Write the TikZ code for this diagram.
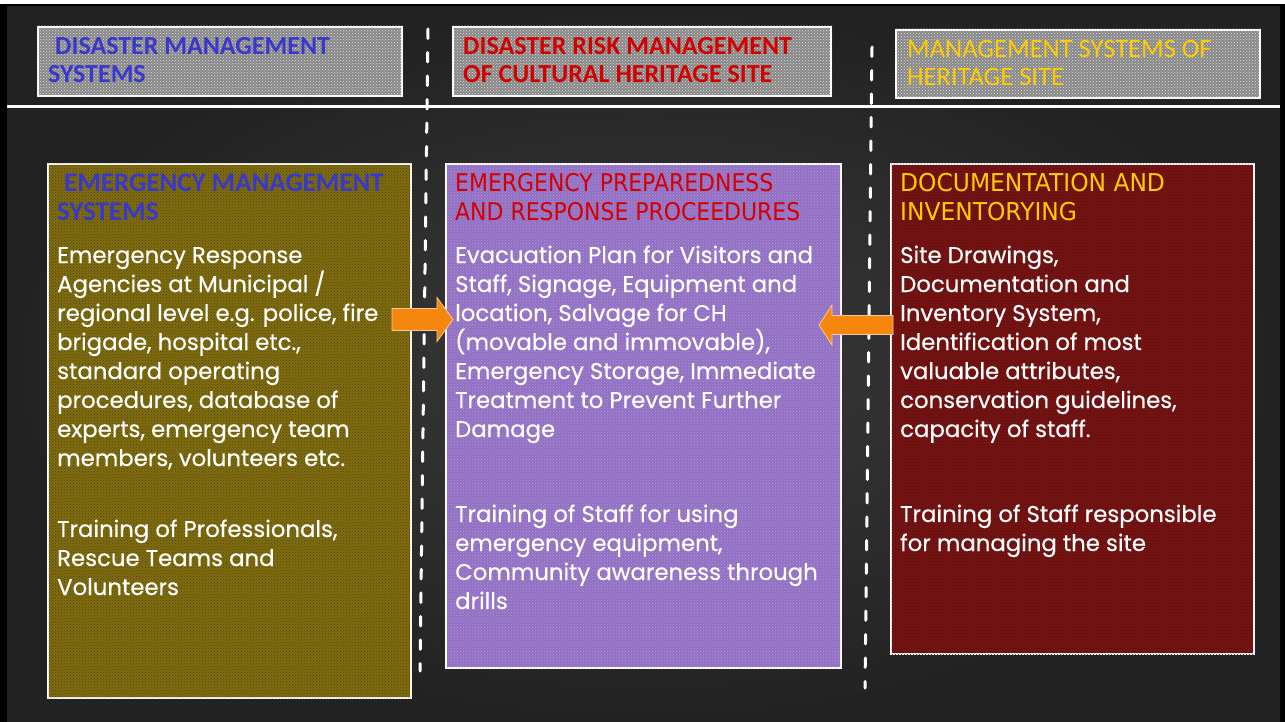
\documentclass[tikz,border=0pt]{standalone}
\usepackage{fontspec}
\usetikzlibrary{calc,patterns}
\newfontfamily\bodyf[FakeBold=0.4]{Poppins}
\newfontfamily\calf{Carlito}
\newfontfamily\tahf[FakeStretch=0.9]{DejaVu Sans}
\newfontfamily\tahfw[FakeStretch=0.95]{DejaVu Sans}
\definecolor{bgin}{HTML}{3A3A3A}
\definecolor{bgout}{HTML}{222222}
\definecolor{hdrgray}{HTML}{888888}
\definecolor{olivebox}{HTML}{7F6C10}
\definecolor{purplebox}{HTML}{9270C4}
\definecolor{redbox}{HTML}{761313}
\definecolor{tblue}{HTML}{3838CC}
\definecolor{tred}{HTML}{D40000}
\definecolor{tyellow}{HTML}{FFCC00}
\definecolor{arroworange}{HTML}{F5870F}
\definecolor{arrowedge}{HTML}{F8C79A}
\newcommand\txtblock[1]{\parbox[t]{420pt}{\raggedright #1}}
\tikzset{
  hdrbox/.style={draw=white, line width=2pt, fill=hdrgray, inner sep=0pt, anchor=north west},
  colbox/.style={draw=white, line width=2pt, inner sep=0pt, anchor=north west},
  texture/.style={pattern=crosshatch dots, pattern color=#1},
  txt/.style={inner sep=0pt, anchor=base west, align=left},
  hdrfontA/.style={font=\calf\bfseries\fontsize{26}{28}\selectfont},
  titfontA/.style={font=\calf\bfseries\fontsize{27}{29}\selectfont},
  hdrfontB/.style={font=\calf\fontsize{26.5}{28}\selectfont},
  tahfont/.style={font=\tahf\fontsize{24.4}{29}\selectfont},
  tahfontw/.style={font=\tahfw\fontsize{24.6}{29}\selectfont},
  bodyfont/.style={font=\bodyf\fontsize{22.8}{29}\selectfont, text=white},
  divider/.style={white, line width=3pt, line cap=round, dash pattern=on 9.5pt off 14pt},
  blockarrow/.style={fill=arroworange, draw=arrowedge, line width=0.8pt, line join=miter}
}
\begin{document}
\begin{tikzpicture}[x=1pt,y=-1pt]
\useasboundingbox (0,0) rectangle (1285,722);
% frame and background
\fill[white] (0,0) rectangle (1285,722);
\fill[black] (0,4) rectangle (1285,722);
\shade[inner color=bgin, outer color=bgout] (7,7) rectangle (1280,722);
\draw[white, line width=2.5pt] (7,106.5) -- (1280,106.5);
% dividers
\coordinate (d1top) at (428,29);
\coordinate (d1bot) at (420,671);
\coordinate (d2top) at (872,47);
\coordinate (d2bot) at (865,688);
\draw[divider] (d1top) -- (d1bot);
\draw[divider] (d2top) -- (d2bot);
% header boxes
\node[hdrbox, minimum width=364pt, minimum height=69pt] (h1) at (37,26) {};
\node[hdrbox, minimum width=378pt, minimum height=69pt] (h2) at (452,26) {};
\node[hdrbox, minimum width=364pt, minimum height=68pt] (h3) at (895,29) {};
\fill[texture=white!75!hdrgray] (h1.north west) rectangle (h1.south east);
\fill[texture=white!75!hdrgray] (h2.north west) rectangle (h2.south east);
\fill[texture=white!75!hdrgray] (h3.north west) rectangle (h3.south east);
\node[txt, hdrfontA, text=tblue] (h1t) at (48,55) {\txtblock{\hspace*{7pt}DISASTER MANAGEMENT\\SYSTEMS}};
\node[txt, hdrfontA, text=tred] (h2t) at (463,55) {\txtblock{DISASTER RISK MANAGEMENT\\OF CULTURAL HERITAGE SITE}};
\node[txt, hdrfontB, text=tyellow] (h3t) at (907,58) {\txtblock{MANAGEMENT SYSTEMS OF\\HERITAGE SITE}};
% column boxes
\node[colbox, fill=olivebox, minimum width=363pt, minimum height=534pt] (b1) at (47,163) {};
\node[colbox, fill=purplebox, minimum width=395pt, minimum height=504pt] (b2) at (445,163) {};
\node[colbox, fill=redbox, minimum width=363pt, minimum height=490pt] (b3) at (890,163) {};
\fill[texture=black!35!olivebox] ($(b1.north west)+(1,1)$) rectangle ($(b1.south east)+(-1,-1)$);
\fill[texture=white!25!purplebox] ($(b2.north west)+(1,1)$) rectangle ($(b2.south east)+(-1,-1)$);
\fill[texture=black!30!redbox] ($(b3.north west)+(1,1)$) rectangle ($(b3.south east)+(-1,-1)$);
% titles
\node[txt, titfontA, text=tblue] (t1) at (57,192) {\txtblock{\hspace*{7pt}EMERGENCY MANAGEMENT\\SYSTEMS}};
\node[txt, tahfont, text=tred] (t2) at (455,192) {\txtblock{EMERGENCY PREPAREDNESS\\AND RESPONSE PROCEEDURES}};
\node[txt, tahfontw, text=tyellow] (t3) at (900,192) {\txtblock{DOCUMENTATION AND\\INVENTORYING}};
% body texts
\node[txt, bodyfont] (x1) at (57,263) {\txtblock{Emergency Response\\
Agencies at Municipal /\\
regional level e.g. police, fire\\
brigade, hospital etc.,\\
standard operating\\
procedures, database of\\
experts, emergency team\\
members, volunteers etc.\\[42pt]
Training of Professionals,\\
Rescue Teams and\\
Volunteers}};
\node[txt, bodyfont] (x2) at (455,263) {\txtblock{Evacuation Plan for Visitors and\\
Staff, Signage, Equipment and\\
location, Salvage for CH\\
(movable and immovable),\\
Emergency Storage, Immediate\\
Treatment to Prevent Further\\
Damage\\[56pt]
Training of Staff for using\\
emergency equipment,\\
Community awareness through\\
drills}};
\node[txt, bodyfont] (x3) at (900,263) {\txtblock{Site Drawings,\\
Documentation and\\
Inventory System,\\
Identification of most\\
valuable attributes,\\
conservation guidelines,\\
capacity of staff.\\[56pt]
Training of Staff responsible\\
for managing the site}};
% block arrows
\coordinate (a1s) at (392,319.5);
\coordinate (a1e) at (453,319.5);
\coordinate (a2s) at (893,325);
\coordinate (a2e) at (819,325);
\draw[blockarrow] ($(a1s)+(0,-11)$) -- ($(a1e)+(-16,-11)$) -- ($(a1e)+(-16,-22)$) -- (a1e)
  -- ($(a1e)+(-16,22)$) -- ($(a1e)+(-16,11)$) -- ($(a1s)+(0,11)$) -- cycle;
\draw[blockarrow] ($(a2s)+(0,-9.5)$) -- ($(a2e)+(13,-9.5)$) -- ($(a2e)+(13,-20)$) -- (a2e)
  -- ($(a2e)+(13,20)$) -- ($(a2e)+(13,9.5)$) -- ($(a2s)+(0,9.5)$) -- cycle;
\end{tikzpicture}
\end{document}
